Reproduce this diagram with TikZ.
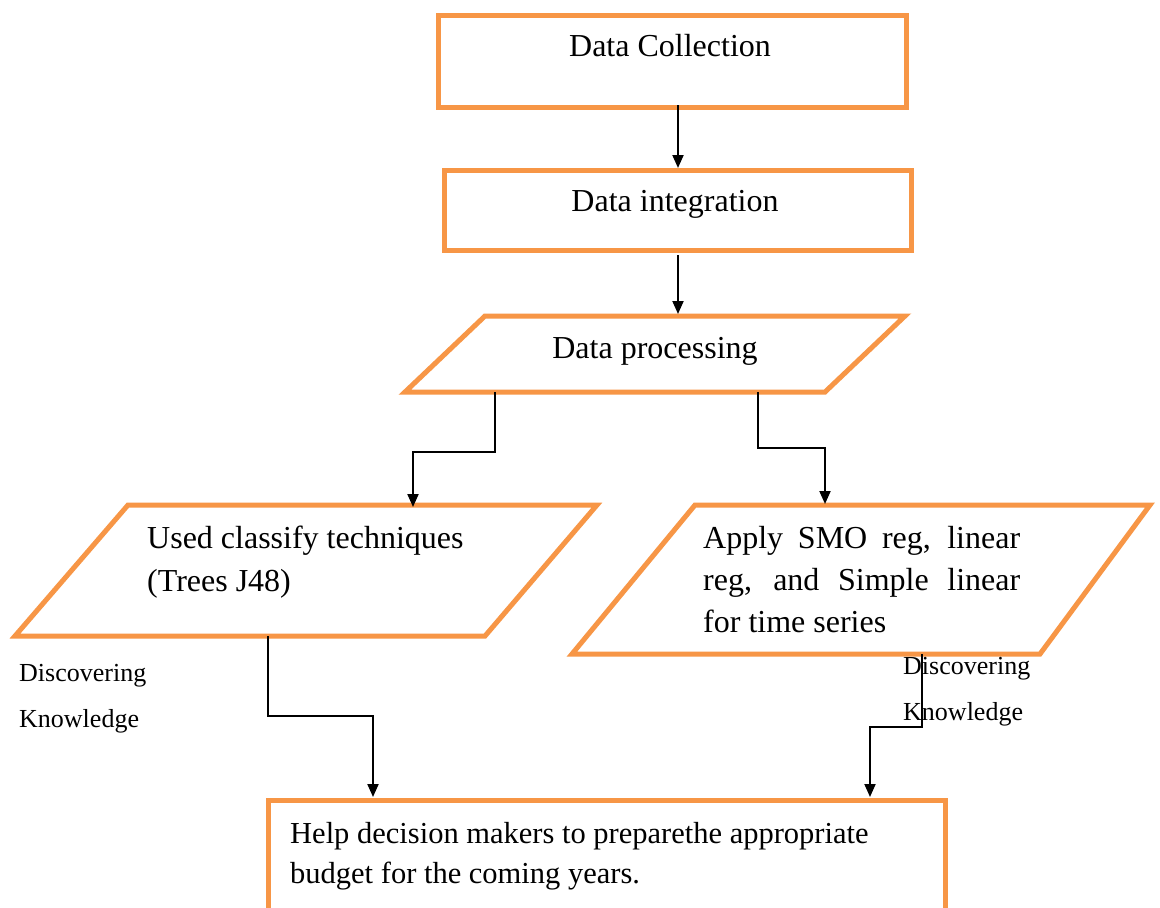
\documentclass[tikz,border=0pt]{standalone}
\usepackage{fontspec}
\setmainfont{Liberation Serif}
\usetikzlibrary{arrows.meta}
\definecolor{boxorange}{HTML}{F79646}
\tikzset{
  obox/.style={draw=boxorange, line width=5pt, fill=white},
  arr/.style={line width=2pt, -{Triangle[length=13pt,width=11pt]}},
  bigtxt/.style={inner sep=0pt, font=\fontsize{32}{42}\selectfont},
  boxtxt/.style={inner sep=0pt, font=\fontsize{30.5}{40}\selectfont},
  smalltxt/.style={inner sep=0pt, font=\fontsize{26}{46}\selectfont}
}
\begin{document}
\begin{tikzpicture}[x=1pt,y=-1pt]
\clip (0,0) rectangle (1160,908);
\fill[white] (0,0) rectangle (1160,908);
% boxes
\node[obox, minimum width=468pt, minimum height=92pt, anchor=north west] (b1) at (436,13) {};
\node[obox, minimum width=467pt, minimum height=80pt, anchor=north west] (b2) at (442,168) {};
\draw[obox] (485,316) coordinate (pa) -- (905,316) -- (825,392) -- (405,392) -- cycle;
\draw[obox] (128,505) coordinate (la) -- (597,505) -- (485,636) -- (15,636) -- cycle;
\draw[obox] (695,505) coordinate (ra) -- (1150,505) -- (1040,654) -- (572,654) -- cycle;
\draw[obox] (268,930) -- (268,800) -- (945,800) -- (945,930);
% texts
\node[bigtxt] (t1) at (670,46) {Data Collection};
\node[bigtxt] (t2) at (675,204) {Data integration};
\node[bigtxt] (t3) at (655,351) {Data processing};
\node[bigtxt, anchor=base west] (t4a) at (147,548) {Used classify techniques};
\node[bigtxt, anchor=base west] (t4b) at (147,591) {(Trees J48)};
\node[bigtxt, anchor=base west] (t5a) at (703,548) {\makebox[317pt][s]{Apply SMO reg, linear}};
\node[bigtxt, anchor=base west] (t5b) at (703,590) {\makebox[317pt][s]{reg, and Simple linear}};
\node[bigtxt, anchor=base west] (t5c) at (703,632) {for time series};
\node[boxtxt, anchor=base west] (t6a) at (290,843) {Help decision makers to preparethe appropriate};
\node[boxtxt, anchor=base west] (t6b) at (290,883) {budget for the coming years.};
\node[smalltxt, anchor=base west] (d1) at (19,681) {Discovering};
\node[smalltxt, anchor=base west] (k1) at (19,727) {Knowledge};
% connector coordinates
\coordinate (c1s) at (678,105);
\coordinate (c1e) at (678,168);
\coordinate (c2s) at (678,255);
\coordinate (c2e) at (678,314);
\coordinate (pl) at (495,392);
\coordinate (plt) at (413,507);
\coordinate (pr) at (758,392);
\coordinate (prt) at (825,504);
\coordinate (ls) at (268,636);
\coordinate (le) at (373,797);
\coordinate (rs) at (922,654);
\coordinate (re) at (870,797);
\draw[arr] (c1s) -- (c1e);
\draw[arr] (c2s) -- (c2e);
\draw[arr] (pl) -- (495,452) -| (plt);
\draw[arr] (pr) -- (758,448) -| (prt);
\draw[arr] (ls) -- (268,716) -| (le);
\draw[arr] (rs) -- (922,727) -| (re);
\node[smalltxt, anchor=base west] (d2) at (903,674) {Discovering};
\node[smalltxt, anchor=base west] (k2) at (903,720) {Knowledge};
\end{tikzpicture}
\end{document}
